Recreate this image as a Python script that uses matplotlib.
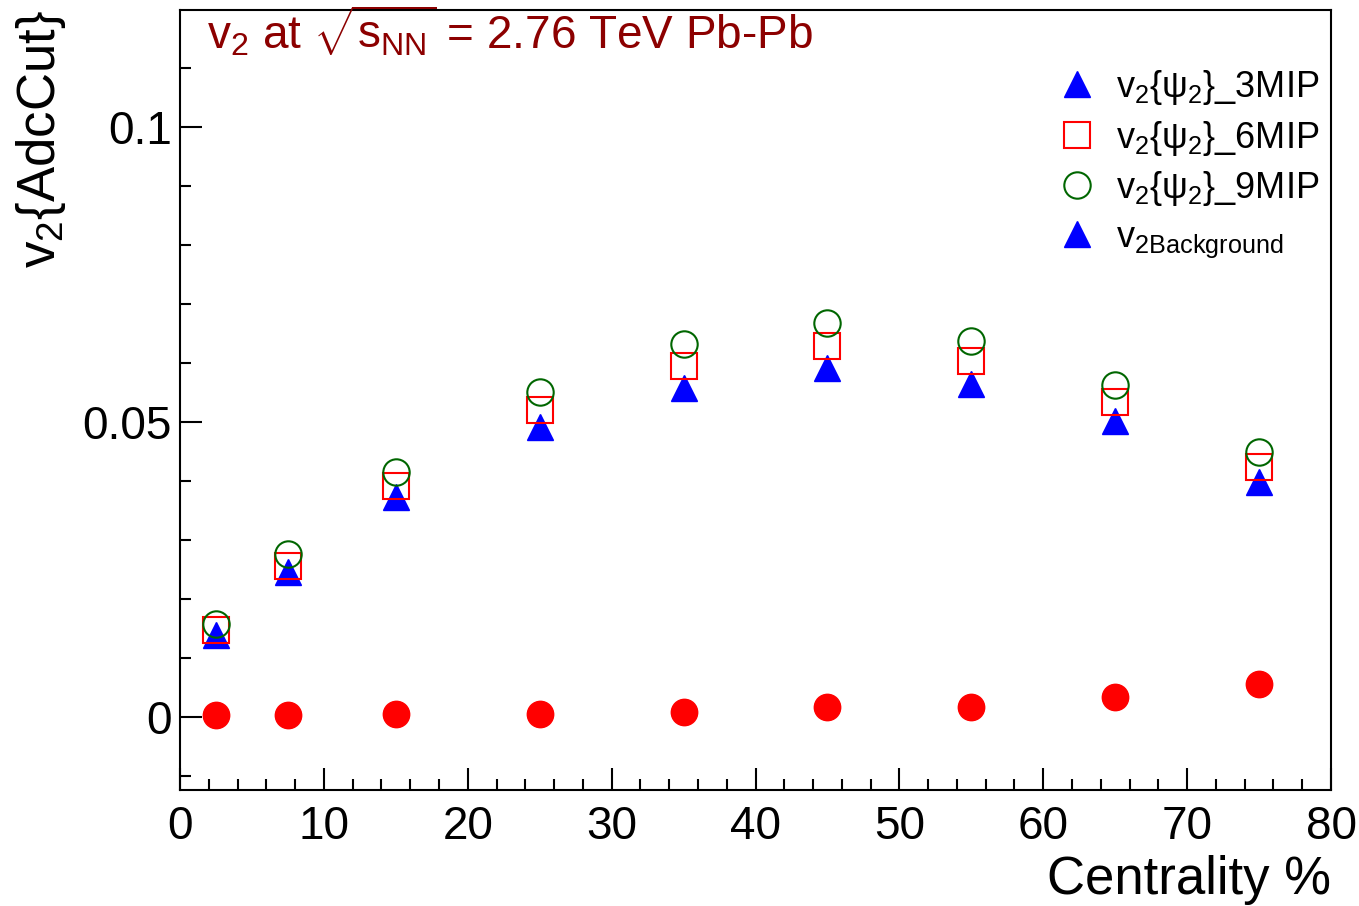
import matplotlib
matplotlib.use("Agg")
import matplotlib.pyplot as plt
from matplotlib.lines import Line2D
from matplotlib.ticker import MultipleLocator

plt.rcParams['font.family'] = ['Liberation Sans', 'DejaVu Sans']
plt.rcParams['mathtext.fontset'] = 'custom'
plt.rcParams['mathtext.rm'] = 'Liberation Sans'
plt.rcParams['mathtext.it'] = 'Liberation Sans'
plt.rcParams['mathtext.bf'] = 'Liberation Sans:bold'

# centrality bin centres (%)
centrality = [2.5, 7.5, 15, 25, 35, 45, 55, 65, 75]

# v2 for the three ADC cuts, and background
v2_3mip = [0.0139, 0.0246, 0.0373, 0.0492, 0.0558, 0.0592, 0.0564, 0.0502, 0.0398]
v2_6mip = [0.0147, 0.0256, 0.0392, 0.0520, 0.0595, 0.0629, 0.0603, 0.0534, 0.0424]
v2_9mip = [0.0158, 0.0276, 0.0415, 0.0550, 0.0632, 0.0668, 0.0637, 0.0563, 0.0449]
v2_bkg = [0.0003, 0.0003, 0.0005, 0.0005, 0.0009, 0.0017, 0.0017, 0.0034, 0.0056]

labels = [r'v$_{\mathregular{2}}${ψ$_{\mathregular{2}}$}_3MIP',
          r'v$_{\mathregular{2}}${ψ$_{\mathregular{2}}$}_6MIP',
          r'v$_{\mathregular{2}}${ψ$_{\mathregular{2}}$}_9MIP',
          r'v$_{\mathregular{2Background}}$']

fig = plt.figure(figsize=(13.59, 9.06), dpi=100)
ax = fig.add_axes([0.1325, 0.128, 0.8469, 0.861])

ms = 19
ax.plot(centrality, v2_bkg, 'o', color='red', ms=ms, mec='red', ls='none')
ax.plot(centrality, v2_3mip, '^', color='blue', ms=ms, mec='blue', ls='none')
ax.plot(centrality, v2_6mip, 's', mfc='none', mec='red', ms=ms, mew=1.5, ls='none')
ax.plot(centrality, v2_9mip, 'o', mfc='none', mec='#006600', ms=ms, mew=1.5, ls='none')

ax.set_xlim(0, 80)
ax.set_ylim(-0.0124, 0.1198)

ax.xaxis.set_major_locator(MultipleLocator(10))
ax.xaxis.set_minor_locator(MultipleLocator(2))
ax.yaxis.set_major_locator(MultipleLocator(0.05))
ax.yaxis.set_minor_locator(MultipleLocator(0.01))
ax.yaxis.set_major_formatter(plt.FuncFormatter(lambda v, p: '%g' % round(v, 4)))

ax.tick_params(which='both', direction='in', top=False, right=False, width=1.5)
ax.tick_params(which='major', length=16, labelsize=33)
ax.tick_params(which='minor', length=8)
ax.tick_params(axis='x', pad=11)
ax.tick_params(axis='y', pad=6)
for s in ax.spines.values():
    s.set_linewidth(1.5)

ax.set_xlabel('Centrality %', fontsize=38, loc='right')
ax.xaxis.set_label_coords(1.0, -0.083)
ax.set_ylabel(r'v$_{\mathregular{2}}${AdcCut}', fontsize=38, loc='top')
ax.yaxis.set_label_coords(-0.097, 1.0)

ax.text(0.0235, 0.951, r'v$_{\mathregular{2}}$ at $\sqrt{\mathregular{s}_{\mathregular{NN}}}$ = 2.76 TeV Pb-Pb',
        transform=ax.transAxes, fontsize=33, color='#8c0000', va='baseline', ha='left')

handles = [Line2D([], [], marker='^', color='blue', ms=ms, ls='none'),
           Line2D([], [], marker='s', mfc='none', mec='red', ms=ms, mew=1.5, ls='none'),
           Line2D([], [], marker='o', mfc='none', mec='#006600', ms=ms, mew=1.5, ls='none'),
           Line2D([], [], marker='^', color='blue', ms=ms, ls='none')]
ax.legend(handles, labels, loc='upper right', bbox_to_anchor=(1.012, 0.958), frameon=False,
          fontsize=26, handlelength=1.0, handletextpad=0.6, labelspacing=0.32,
          borderaxespad=0.3)

fig.savefig('out.png', dpi=100)
